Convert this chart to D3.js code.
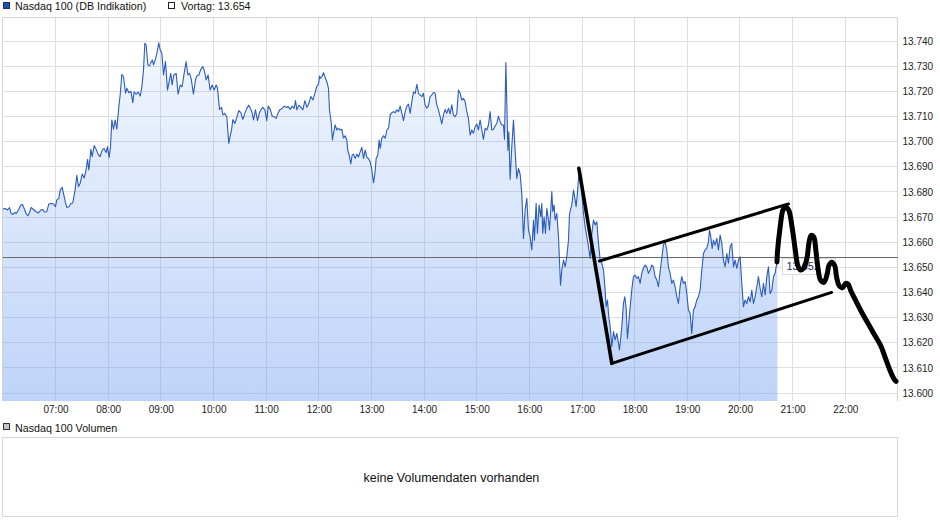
<!DOCTYPE html>
<html><head><meta charset="utf-8">
<script src="https://cdn.jsdelivr.net/npm/d3@7"></script>
<style>
body{margin:0;background:#fff;}
svg{display:block;font-family:"Liberation Sans",Arial,sans-serif;}
</style>
</head><body>
<svg id="c" width="940" height="526"></svg>
<script>
// ---- DATA (minutes after 06:00, index points) ----
const minutes = [0,2.6,5.3,7.6,9.5,11.4,13.3,15.2,17.8,20.5,22.4,24.3,26.6,28.5,30.4,32.2,34.9,37.9,40.6,43.3,45.2,47.4,50.1,52.4,54.7,57.7,60.0,61.5,63.8,65.3,67.6,69.1,71.4,72.9,75.2,77.5,79.7,82.4,84.3,86.2,88.1,90.4,92.7,94.9,96.5,98.0,100.3,101.8,104.1,106.3,108.6,110.9,113.2,115.4,117.7,119.2,121.1,122.7,124.2,126.1,128.0,129.9,132.2,133.7,135.6,137.5,139.8,141.3,143.6,145.9,148.1,149.6,151.9,154.2,156.5,158.4,160.3,161.8,163.3,165.2,167.1,168.6,170.5,171.7,173.6,175.5,177.7,179.3,181.2,183.1,185.3,187.6,189.9,191.4,192.9,194.8,197.5,199.7,202.1,204.3,206.6,208.9,210.8,212.7,214.6,217.2,219.5,221.0,223.3,225.6,227.9,229.4,231.7,233.9,236.2,238.5,240.8,243.1,244.6,246.9,249.2,250.7,253.0,255.2,257.5,259.0,260.6,262.1,264.4,266.6,268.9,271.2,273.5,275.7,278.0,280.3,282.6,284.1,285.6,287.9,290.2,292.5,294.0,296.3,298.6,300.8,302.4,304.7,306.9,309.2,311.5,313.8,316.0,318.3,320.6,322.9,325.2,327.5,329.7,332.0,333.5,335.1,337.3,339.6,341.9,344.2,346.5,348.7,351.0,353.3,355.6,357.9,359.8,360.9,
361.6,363.5,365.4,367.3,369.2,371.1,372.2,374.1,375.6,376.8,378.7,380.6,382.5,384.4,386.3,388.2,390.1,392.0,393.1,394.6,396.5,398.1,399.6,401.5,403.4,405.3,407.2,409.1,411.0,412.9,414.8,416.7,418.6,420.5,422.4,424.3,425.4,427.3,428.8,430.0,431.9,433.8,435.7,437.6,439.5,441.4,443.3,445.2,447.1,449.0,450.9,452.8,454.7,456.6,458.5,460.4,462.3,464.2,466.1,468.0,469.9,471.8,473.7,475.6,477.5,479.3,481.2,483.1,485.0,486.9,488.8,490.7,492.6,494.5,496.4,498.3,500.2,502.1,504.0,505.9,507.8,509.7,511.6,513.5,515.4,517.3,519.2,521.1,523.0,524.9,526.8,528.7,530.6,532.5,534.4,536.3,538.2,540.1,542.0,543.9,545.8,547.7,549.6,551.5,553.4,555.3,557.2,559.1,561.0,562.9,564.8,566.7,568.6,570.5,571.7,573.2,574.3,575.5,576.6,578.1,580.0,581.9,583.8,585.7,587.6,589.5,591.4,593.3,595.2,597.1,599.0,600.9,602.8,604.7,
605.8,607.7,609.2,611.1,613.0,614.2,615.3,616.8,618.4,619.9,621.8,622.9,624.4,625.6,626.7,628.2,629.4,631.3,633.2,634.3,635.5,637.0,638.9,640.8,642.7,644.6,645.7,647.2,648.4,650.3,652.2,653.3,654.8,656.3,657.9,659.8,661.7,663.6,665.5,667.4,669.3,671.2,673.1,675.0,676.9,678.8,680.7,682.6,684.5,686.4,687.5,689.0,690.5,692.1,694.0,695.9,697.8,699.7,701.6,702.7,704.2,705.7,707.2,708.8,710.3,711.8,713.3,714.9,716.7,718.6,720.5,722.4,724.3,726.2,728.1,730.0,731.9,733.8,735.7,737.6,739.5,741.4,743.3,745.2,747.1,749.0,750.9,752.8,754.7,756.6,758.5,760.4,762.3,764.2,766.1,768.0,769.9,771.8,773.7,775.6,777.5,779.4,781.3,783.2,785.1,787.0,788.9,790.8,792.7,794.6,796.5,798.4,800.3,802.2,804.1,805.3,806.8,808.3,809.8,811.7,813.6,815.5,817.4,819.3,821.2,823.1,825.0,826.9,828.8,830.7,832.6,834.5,836.4,838.3,840.2,842.1,844.0,845.9,847.8,849.7,851.6,853.5,855.4,857.3,859.2,861.1,863.0,864.9,866.8,868.7,870.6,872.5,874.4,876.3,878.2,880.1,881.2,882.7];
const values = [13673.2,13673.4,13672.8,13673.7,13671.4,13671.0,13671.8,13671.4,13672.8,13674.8,13675.0,13673.4,13671.4,13670.5,13671.7,13673.8,13673.0,13672.1,13671.6,13672.8,13673.0,13672.0,13672.1,13675.2,13675.4,13675.2,13674.1,13676.8,13677.4,13680.7,13681.8,13679.4,13675.7,13673.8,13674.1,13675.4,13675.6,13681.0,13686.6,13682.1,13683.4,13687.1,13685.5,13688.9,13692.9,13688.7,13696.9,13694.0,13698.4,13696.9,13695.0,13694.0,13696.6,13697.3,13695.6,13698.0,13693.7,13698.0,13708.6,13704.9,13708.6,13704.9,13713.9,13718.5,13726.7,13725.8,13719.2,13721.2,13719.4,13720.0,13715.5,13719.8,13718.9,13719.7,13718.1,13721.6,13728.5,13739.1,13738.4,13730.5,13730.1,13731.4,13732.4,13730.5,13732.4,13735.1,13739.3,13736.4,13735.1,13726.5,13731.8,13720.5,13724.5,13727.1,13722.5,13726.5,13727.1,13718.9,13722.5,13721.8,13727.1,13731.8,13726.5,13727.1,13725.1,13718.9,13724.5,13726.1,13726.5,13728.7,13729.8,13728.5,13724.5,13726.5,13720.5,13722.5,13720.5,13722.5,13721.2,13712.8,13713.6,13710.6,13711.2,13709.9,13699.3,13702.2,13704.6,13708.8,13707.2,13709.6,13712.3,13711.5,13708.8,13711.2,13713.2,13714.5,13712.8,13711.5,13708.6,13712.6,13708.3,13711.5,13712.6,13713.6,13712.6,13708.3,13714.1,13712.8,13710.2,13709.9,13709.2,13711.5,13712.8,13713.2,13714.1,13713.6,13713.9,13712.8,13714.1,13713.2,13716.3,13712.6,13714.5,13713.6,13712.6,13716.3,13713.6,13715.2,13717.9,13716.5,13719.2,13722.1,13722.8,13726.1,
13725.1,13725.8,13727.4,13725.5,13723.8,13721.2,13712.6,13707.9,13700.6,13703.3,13706.6,13704.6,13705.3,13704.6,13704.9,13701.4,13702.3,13700.6,13696.6,13694.7,13691.1,13694.7,13695.0,13693.3,13695.0,13693.9,13695.9,13697.7,13693.3,13696.6,13693.7,13693.3,13692.0,13688.7,13683.6,13688.2,13693.3,13694.7,13700.6,13697.3,13701.4,13702.3,13701.4,13704.6,13705.3,13710.6,13711.5,13711.9,13711.5,13712.6,13711.9,13714.1,13711.2,13708.3,13711.9,13714.1,13714.9,13711.2,13715.9,13719.8,13719.2,13722.8,13719.2,13718.5,13717.9,13719.2,13714.6,13713.3,13714.2,13717.9,13718.5,13719.5,13719.2,13714.6,13712.6,13709.9,13707.0,13710.5,13712.8,13711.2,13713.2,13711.0,13714.6,13710.5,13709.9,13711.2,13720.5,13719.2,13716.5,13717.2,13715.9,13711.9,13709.2,13702.6,13704.6,13703.3,13705.9,13707.0,13704.6,13708.6,13704.6,13700.9,13705.3,13704.6,13706.6,13711.9,13704.6,13704.9,13706.2,13707.2,13710.1,13707.9,13706.6,13706.6,13700.9,13731.4,13715.2,13696.6,13703.9,13685.0,13697.9,13708.6,13696.1,13685.3,13689.3,13687.0,13679.4,13661.5,13672.8,13677.4,13664.8,13662.2,13656.9,13668.8,
13660.8,13675.4,13663.5,13674.8,13670.1,13675.4,13663.5,13670.1,13663.5,13673.4,13668.8,13664.8,13672.8,13680.1,13672.1,13674.8,13668.8,13671.4,13662.2,13652.9,13642.9,13648.9,13652.9,13650.2,13654.2,13660.8,13670.8,13673.4,13674.8,13680.7,13676.8,13674.1,13679.4,13686.7,13688.7,13679.4,13671.4,13666.1,13662.2,13658.2,13653.5,13663.5,13668.8,13666.8,13668.1,13659.5,13652.9,13651.6,13648.9,13640.9,13634.3,13637.0,13630.3,13626.4,13618.4,13624.4,13621.1,13623.7,13619.7,13617.1,13622.4,13627.7,13635.6,13638.3,13633.7,13621.7,13627.7,13634.3,13640.9,13646.3,13646.9,13645.6,13646.3,13643.6,13647.6,13649.6,13650.9,13650.2,13647.6,13648.9,13650.9,13650.2,13646.3,13644.9,13642.3,13648.2,13653.5,13658.9,13660.2,13656.9,13650.2,13647.6,13643.6,13644.9,13642.3,13638.3,13635.6,13642.3,13646.3,13643.6,13644.3,13639.6,13633.0,13631.7,13623.7,13633.0,13634.3,13637.0,13638.3,13640.9,13648.9,13655.5,13656.9,13657.5,13660.2,13664.8,13662.2,13657.5,13660.8,13658.8,13661.5,13656.9,13662.8,13659.5,13652.9,13650.2,13655.5,13651.6,13658.2,13659.5,13650.2,13652.9,13649.6,13652.9,13654.2,13643.6,13634.3,13637.0,13635.6,13638.3,13636.3,13640.9,13635.6,13638.3,13642.3,13646.3,13641.6,13638.3,13643.6,13639.0,13646.3,13650.2,13639.6,13640.9,13646.3,13647.6,13650.2,13652.2];

const hourTicks = [60,120,180,240,300,360,420,480,540,600,660,720,780,840,900,960];
const hourLabels = ["07:00","08:00","09:00","10:00","11:00","12:00","13:00","14:00","15:00","16:00","17:00","18:00","19:00","20:00","21:00","22:00"];
const yTicks = [13600,13610,13620,13630,13640,13650,13660,13670,13680,13690,13700,13710,13720,13730,13740];
const prevClose = 13654;
const lastValue = 13652;

// hand-drawn annotation strokes (minutes after 06:00, index points)
const steepMin = [656.4, 694.0];
const steepVal = [13689.4, 13611.8];
const lowerMin = [694.0, 944.5];
const lowerVal = [13611.8, 13640.0];
const upperMin = [679.9, 895.3];
const upperVal = [13652.5, 13675.2];
const squiggleMin = [882.2,882.9,885.8,889.0,891.7,895.5,899.4,903.1,905.9,908.9,912.7,916.6,918.5,921.1,924.2,926.5,928.8,931.8,935.7,939.4,941.4,944.5,947.9,950.2,952.9,956.7,960.6,963.2,966.3,972.0,977.8,985.4,993.1,1000.6,1006.4,1012.2,1016.0,1017.9];
const squiggleVal = [13652.1,13656.7,13666.0,13672.8,13674.0,13672.8,13666.0,13656.7,13650.7,13648.9,13649.7,13654.1,13659.4,13662.7,13662.0,13656.7,13650.0,13644.9,13644.0,13647.3,13650.7,13652.0,13650.7,13646.0,13642.7,13641.8,13643.6,13643.3,13640.7,13636.7,13632.7,13628.0,13623.3,13618.7,13613.3,13608.0,13605.3,13604.6];

// ---- CHART ----
const de = d3.formatLocale({decimal:",", thousands:".", grouping:[3], currency:["","€"]});
const fmt = de.format(",.0f");

const svg = d3.select("#c");
const plotTop = 17, plotBottom = 401, plotLeft = 2.85;
const x = d3.scaleLinear().domain([0,1020]).range([plotLeft, plotLeft + 1020*52.65/60]);
const y = d3.scaleLinear().domain([13600,13740]).range([393,41]);
const plotRight = x(1020);
const snap = v => Math.floor(v) + 0.5;

const data = minutes.map((m,i)=>({m, v:values[i]}));

// gradient
const defs = svg.append("defs");
const grad = defs.append("linearGradient").attr("id","g").attr("x1",0).attr("y1",plotTop).attr("x2",0).attr("y2",plotBottom).attr("gradientUnits","userSpaceOnUse");
grad.append("stop").attr("offset",0).attr("stop-color","#6f9ff0").attr("stop-opacity",0.06);
grad.append("stop").attr("offset",1).attr("stop-color","#6f9ff0").attr("stop-opacity",0.45);

// legend top
svg.append("rect").attr("x",3.5).attr("y",2.5).attr("width",6).attr("height",6).attr("fill","#1f4fb5").attr("stroke","#1a2f6a");
svg.append("text").attr("x",15).attr("y",10).attr("font-size","10.7px").attr("fill","#111").text("Nasdaq 100 (DB Indikation)");
svg.append("rect").attr("x",168.5).attr("y",2.5).attr("width",6).attr("height",6).attr("fill","#fff").attr("stroke","#222");
svg.append("text").attr("x",181).attr("y",10).attr("font-size","10.7px").attr("fill","#111").text("Vortag: " + fmt(prevClose));

// grid
const grid = svg.append("g");
grid.selectAll("line.h").data(yTicks).join("line")
  .attr("x1",plotLeft).attr("x2",plotRight)
  .attr("y1",d=>snap(y(d))).attr("y2",d=>snap(y(d)))
  .attr("stroke","#dedede");
grid.selectAll("line.v").data(hourTicks).join("line")
  .attr("y1",plotTop).attr("y2",plotBottom)
  .attr("x1",d=>snap(x(d))).attr("x2",d=>snap(x(d)))
  .attr("stroke","#dedede");
// frame (top, left, right)
svg.append("path")
  .attr("d",`M${snap(plotLeft)},${plotBottom}V${snap(plotTop)}H${snap(plotRight)}V${plotBottom}`)
  .attr("fill","none").attr("stroke","#d4d4d4");

// area + line
svg.append("path").datum(data)
  .attr("d", d3.area().x(d=>x(d.m)).y0(plotBottom).y1(d=>y(d.v)))
  .attr("fill","url(#g)");
svg.append("line")
  .attr("x1",plotLeft).attr("x2",plotRight)
  .attr("y1",snap(y(prevClose))).attr("y2",snap(y(prevClose)))
  .attr("stroke","#6a6a6a");
svg.append("path").datum(data)
  .attr("d", d3.line().x(d=>x(d.m)).y(d=>y(d.v)))
  .attr("fill","none").attr("stroke","#2a5cbc").attr("stroke-width",1.1).attr("stroke-linejoin","round");

// last value label
const lx = x(minutes[minutes.length-1]);
svg.append("rect").attr("x",snap(lx)+5).attr("y",snap(y(lastValue))-4).attr("width",53).attr("height",16)
  .attr("fill","#fff").attr("stroke","#dcdcdc");
svg.append("text").attr("x",lx+9).attr("y",y(lastValue)+8).attr("font-size","11px").attr("fill","#1b2a66").text(fmt(lastValue));

// axes
const yAxis = d3.axisRight(y).tickValues(yTicks).tickFormat(fmt).tickSize(0).tickPadding(5);
const ya = svg.append("g").attr("transform",`translate(${snap(plotRight)},0)`).call(yAxis);
ya.select(".domain").remove();
ya.selectAll("text").attr("font-size","10px").attr("font-family","'Liberation Sans',Arial,sans-serif").attr("fill","#222");

const xAxis = d3.axisBottom(x).tickValues(hourTicks).tickFormat((d,i)=>hourLabels[i]).tickSize(0).tickPadding(5);
const xa = svg.append("g").attr("transform",`translate(0,${plotBottom})`).call(xAxis);
xa.select(".domain").remove();
xa.selectAll("text").attr("font-size","10px").attr("font-family","'Liberation Sans',Arial,sans-serif").attr("fill","#222");

// annotations
const ann = svg.append("g").attr("fill","none").attr("stroke","#000").attr("stroke-linecap","round").attr("stroke-linejoin","round");
const seg = (ms, vs) => d3.line()(ms.map((m,i)=>[x(m), y(vs[i])]));
ann.append("path").attr("d", seg(steepMin, steepVal)).attr("stroke-width",3.6);
ann.append("path").attr("d", seg(lowerMin, lowerVal)).attr("stroke-width",3);
ann.append("path").attr("d", seg(upperMin, upperVal)).attr("stroke-width",3);
ann.append("path").attr("d", d3.line().curve(d3.curveCatmullRom.alpha(0.5))(squiggleMin.map((m,i)=>[x(m), y(squiggleVal[i])]))).attr("stroke-width",5);

// volume panel
svg.append("rect").attr("x",3.5).attr("y",423.5).attr("width",6).attr("height",6).attr("fill","#c4c4c4").attr("stroke","#333");
svg.append("text").attr("x",15).attr("y",431.5).attr("font-size","10.7px").attr("fill","#111").text("Nasdaq 100 Volumen");
svg.append("rect").attr("x",snap(plotLeft)).attr("y",437.5).attr("width",snap(plotRight)-snap(plotLeft)).attr("height",79)
  .attr("fill","#fff").attr("stroke","#d8d8d8");
svg.append("text").attr("x",(plotLeft+plotRight)/2+1).attr("y",481.5).attr("text-anchor","middle").attr("font-size","12.5px").attr("fill","#111").text("keine Volumendaten vorhanden");
</script>
</body></html>
